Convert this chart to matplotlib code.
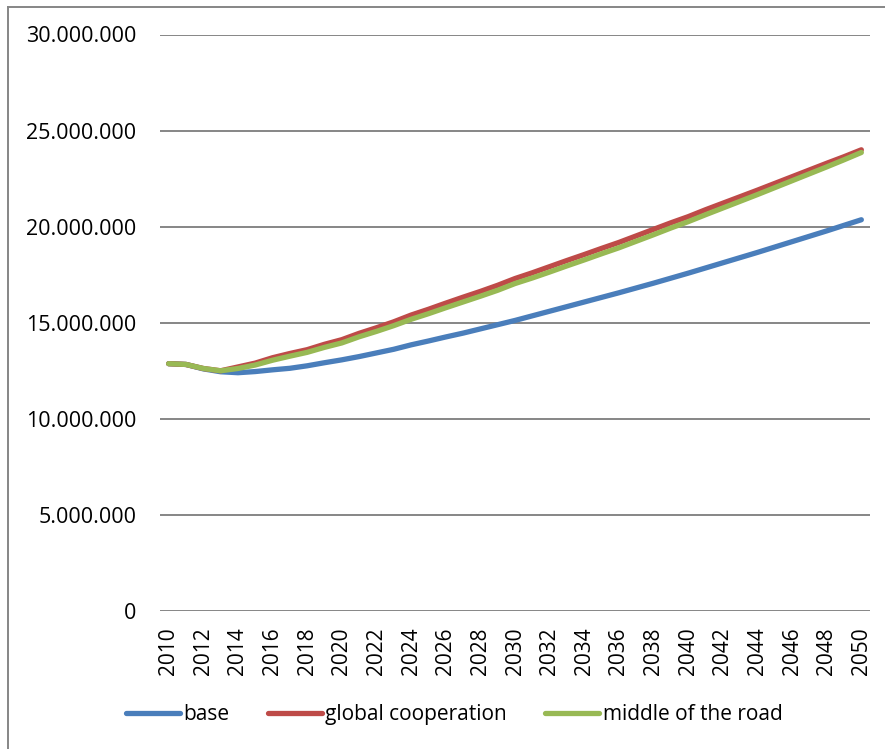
import matplotlib.pyplot as plt
from matplotlib.lines import Line2D
from matplotlib.ticker import FuncFormatter, MultipleLocator

# population values per year (millions)
years = list(range(2010, 2051))

base = [12.87, 12.83, 12.60, 12.45, 12.40, 12.46, 12.55, 12.63, 12.76, 12.92,
        13.07, 13.24, 13.43, 13.62, 13.85, 14.05, 14.26, 14.46, 14.68, 14.90,
        15.12, 15.36, 15.60, 15.84, 16.08, 16.32, 16.56, 16.81, 17.06, 17.32,
        17.58, 17.85, 18.12, 18.39, 18.66, 18.94, 19.22, 19.50, 19.78, 20.07,
        20.36]

global_coop = [12.87, 12.83, 12.62, 12.50, 12.70, 12.90, 13.18, 13.40, 13.60, 13.88,
               14.12, 14.45, 14.74, 15.05, 15.40, 15.70, 16.02, 16.33, 16.63, 16.95,
               17.30, 17.60, 17.92, 18.24, 18.55, 18.87, 19.18, 19.52, 19.86, 20.20,
               20.52, 20.88, 21.22, 21.56, 21.90, 22.25, 22.60, 22.95, 23.30, 23.64,
               24.00]

middle_road = [12.87, 12.83, 12.62, 12.50, 12.62, 12.80, 13.05, 13.26, 13.46, 13.72,
               13.95, 14.27, 14.55, 14.85, 15.18, 15.47, 15.78, 16.08, 16.38, 16.69,
               17.04, 17.33, 17.64, 17.96, 18.27, 18.59, 18.90, 19.24, 19.58, 19.93,
               20.26, 20.62, 20.97, 21.32, 21.67, 22.03, 22.39, 22.75, 23.11, 23.48,
               23.86]

series_names = ["base", "global cooperation", "middle of the road"]
colors = ["#4A7EBB", "#BE4B48", "#98B954"]

plt.rcParams['font.family'] = ['Open Sans', 'DejaVu Sans']

fig = plt.figure(figsize=(8.85, 7.49), dpi=100)
ax = fig.add_axes([160 / 885, 138 / 749, 710 / 885, 576.5 / 749])

for vals, name, c in zip([base, global_coop, middle_road], series_names, colors):
    ax.plot(years, [v * 1e6 for v in vals], color=c, lw=3.8, label=name,
            solid_capstyle='round', solid_joinstyle='round')

ax.set_xlim(2009.5, 2050.5)
ax.set_ylim(0, 30e6)
ax.yaxis.set_major_locator(MultipleLocator(5e6))
ax.yaxis.set_major_formatter(FuncFormatter(lambda v, p: f"{int(v):,}".replace(",", ".")))
ax.set_xticks(years[::2])
ax.set_xticklabels([str(y) for y in years[::2]], rotation=90, fontsize=15)
ax.tick_params(axis='y', labelsize=15.5, length=0, pad=17)
ax.tick_params(axis='x', length=0, pad=12)

ax.grid(axis='y', color='#868686', lw=1.4)
ax.set_axisbelow(True)
for s in ax.spines.values():
    s.set_visible(False)

fig.legend(loc='center', bbox_to_anchor=(0.513, 0.046), ncol=3, frameon=False,
           fontsize=15, handlelength=2.6, handletextpad=0.15, columnspacing=1.85)

# chart area border (top and left edges visible)
fig.add_artist(Line2D([8 / 885, 8 / 885], [0, 1 - 7 / 749], color='#868686', lw=1.4))
fig.add_artist(Line2D([8 / 885, 1], [1 - 7 / 749, 1 - 7 / 749], color='#868686', lw=1.4))

fig.savefig("out.png", dpi=100)
